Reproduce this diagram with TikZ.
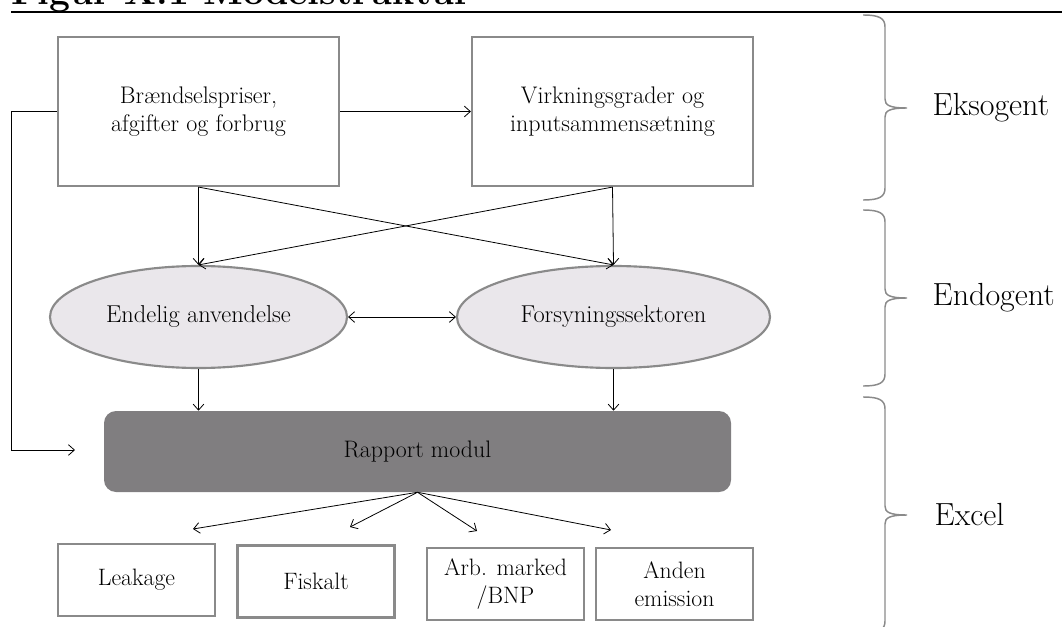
\documentclass[tikz,border=0pt]{standalone}
\usepackage{fontspec}
\usetikzlibrary{positioning, calc, arrows.meta, shapes.geometric}
\definecolor{boxgray}{RGB}{138,138,138}
\definecolor{ellfill}{RGB}{234,231,235}
\definecolor{rapfill}{RGB}{128,126,128}
\tikzset{>={Straight Barb[length=4.5pt,width=8pt]}}
\tikzset{conn/.style={->, line width=0.6pt}}
\tikzset{inbox/.style={draw=boxgray, line width=1.6pt, fill=white, align=center, inner sep=0pt,
  minimum width=210.75pt, minimum height=111.75pt, font=\fontsize{18}{20.5}\selectfont}}
\tikzset{sector/.style={ellipse, draw=boxgray, line width=1.6pt, fill=ellfill, inner sep=0pt,
  minimum height=76.5pt, font=\fontsize{18.3}{21}\selectfont}}
\tikzset{outbox/.style={draw=boxgray, line width=1.6pt, fill=white, align=center, inner sep=0pt,
  minimum width=117.75pt, minimum height=54pt, font=\fontsize{17.8}{21}\selectfont}}
\tikzset{level/.style={draw=boxgray, line width=1.1pt}}
\tikzset{leveltext/.style={anchor=west, font=\fontsize{24}{28}\selectfont}}

\begin{document}
\begin{tikzpicture}[x=0.75pt, y=-0.75pt]
      \useasboundingbox (0,0) rectangle (1062,627);
      \clip (0,0) rectangle (1062,627);

      % overskrift
      \node[anchor=base west, inner sep=0pt, font=\fontsize{28}{32}\selectfont\bfseries] (titel) at (11,4.5) {Figur X.1 Modelstruktur};
      \draw[line width=0.9pt] (11,12) -- (1062,12);

      \node[inbox] (brand) at (198.5,111.5) {Brændselspriser,\\afgifter og forbrug};
      \node[inbox] (virk) at (612.5,111.5) {Virkningsgrader og\\inputsammensætning};

      \node[sector, minimum width=222.75pt] (endelig) at (198.5,317) {Endelig anvendelse};
      \node[sector, minimum width=234.75pt] (forsyn) at (613.5,317) {Forsyningssektoren};

      \node[fill=rapfill, rounded corners=9pt, minimum width=470.25pt, minimum height=60.75pt,
        font=\fontsize{17.9}{21}\selectfont] (rapport) at (417.5,451.5) {Rapport modul};

      \node[outbox] (leak) at (136.5,580) {Leakage};
      \node[outbox] (fisk) at (316,581.5) {Fiskalt};
      \node[outbox] (arb) at (505.5,584) {Arb. marked\\/BNP};
      \node[outbox] (anden) at (674.5,584) {Anden\\emission};

      \draw[conn] (brand) -- (virk);
      \draw[conn] (brand.south) -- (endelig.north);
      \draw[conn] (brand.south) -- (forsyn.north);
      \draw[conn] (virk.south) -- (forsyn.north);
      \draw[conn] (virk.south) -- (endelig.north);
      \draw[conn, <->] (endelig) -- (forsyn);
      \draw[conn] (endelig.south) -- (endelig.south |- rapport.north);
      \draw[conn] (forsyn.south) -- (forsyn.south |- rapport.north);

      \coordinate (loopend) at (75,450);
      \draw[conn] (brand.west) -- ++(-46,0) |- (loopend);

      \coordinate (f1) at (193,529);
      \coordinate (f2) at (350,527);
      \coordinate (f3) at (477,531);
      \coordinate (f4) at (611,530);
      \foreach \f in {f1,f2,f3,f4}
        \draw[conn] (rapport.south) -- (\f);

      % niveauer
      \foreach \t/\m/\b in {15/108/200, 210/298/386, 397/515/633}
        \draw[level] (863,\t) .. controls (879,\t) and (885,\t+3) .. (885,\t+12) -- (885,\m-9)
          .. controls (885,\m-3) and (889,\m) .. (907,\m) .. controls (889,\m) and (885,\m+3) .. (885,\m+9)
          -- (885,\b-12) .. controls (885,\b-3) and (879,\b) .. (863,\b);
      \node[leveltext] (eks) at (928,108) {Eksogent};
      \node[leveltext] (endo) at (928,298) {Endogent};
      \node[leveltext] (excel) at (930,515) {Excel};
\end{tikzpicture}
\end{document}
